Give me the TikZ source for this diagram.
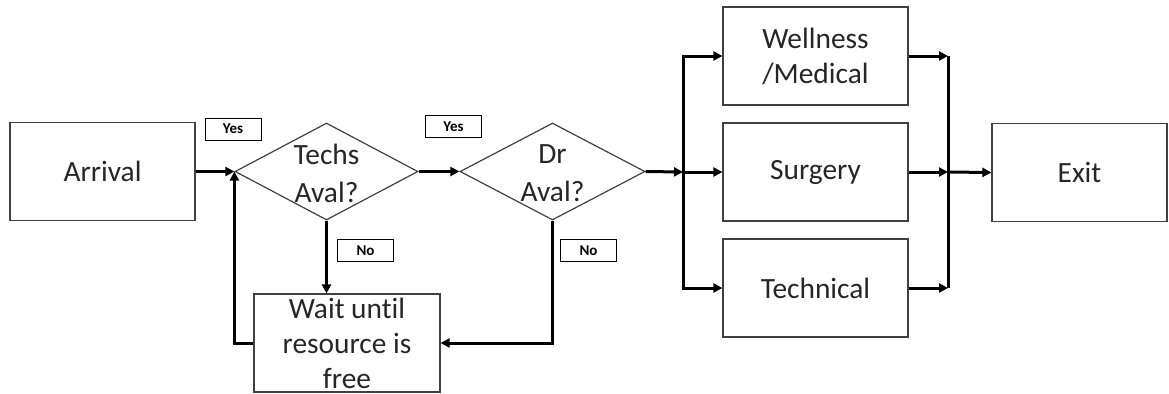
\documentclass[tikz,border=0pt]{standalone}
\usepackage{fontspec}
\setmainfont{Carlito}[Ligatures=NoCommon]
\usetikzlibrary{shapes.geometric,arrows.meta}
\definecolor{boxgray}{HTML}{404040}
\definecolor{textgray}{HTML}{262626}
\begin{document}
\begin{tikzpicture}[x=0.5pt,y=-0.5pt,
  procbox/.style={draw=boxgray,line width=0.6pt,inner sep=0pt,minimum width=#1,minimum height=49pt,align=center,text=textgray,font=\fontsize{14.7}{17.5}\selectfont},
  procbox/.default=92.5pt,
  decision/.style={diamond,draw=boxgray,line width=0.6pt,inner sep=0pt,minimum width=#1,minimum height=48.5pt},
  decision/.default=92pt,
  dtext/.style={align=center,text=textgray,inner sep=0pt,font=\fontsize{14.7}{19}\selectfont},
  lbl/.style={draw=black,line width=0.5pt,minimum width=28pt,minimum height=11pt,inner sep=0pt,font=\bfseries\fontsize{7.5}{8}\selectfont},
  conn/.style={line width=1.5pt,-{Triangle[length=4.5pt,width=4.5pt]}},
  thickline/.style={line width=1.5pt}]
\useasboundingbox (0,0) rectangle (1169,393);
% boxes
\node[procbox] (arr) at (102.5,171.5) {Arrival};
\node[decision=91.5pt] (techs) at (326.5,171.5) {};
\node[dtext] (techsT) at (326.5,173) {Techs\\Aval?};
\node[decision=92.5pt] (dr) at (552.5,171.5) {};
\node[dtext] (drT) at (552.5,173) {Dr\\Aval?};
\node[procbox=93pt] (wait) at (347,343) {Wait until\\resource is\\free};
\node[procbox] (well) at (815.5,56) {Wellness\\/Medical};
\node[procbox] (surg) at (815.5,172) {Surgery};
\node[procbox] (tech) at (815.5,288) {Technical};
\node[procbox=87.5pt] (exit) at (1079.5,172.5) {Exit};
% labels
\node[lbl] (yes1) at (233,129) {Yes};
\node[lbl] (yes2) at (453.5,126.5) {Yes};
\node[lbl] (no1) at (365.5,250.5) {No};
\node[lbl] (no2) at (588.5,250.5) {No};
% junctions
\coordinate (jin) at (683,172);
\coordinate (jout) at (948,172);
% connectors
\draw[conn] (arr.east) -- (techs.west);
\draw[conn] (techs.east) -- (dr.west);
\draw[conn] (techs.south) -- (techs.south |- wait.north);
\draw[conn] (dr.south) |- (wait.east);
\draw[conn] (wait.west) -| (techs.west);
\draw[conn] (dr.east) -- (jin);
\draw[conn] (jin) -- (surg.west);
\draw[conn] (jin) |- (well.west);
\draw[conn] (jin) |- (tech.west);
\draw[thickline] (well.east -| jout) -- (tech.east -| jout);
\draw[conn] (well.east) -- (well.east -| jout);
\draw[conn] (surg.east) -- (jout);
\draw[conn] (tech.east) -- (tech.east -| jout);
\draw[conn] (jout) -- (exit.west);
\end{tikzpicture}
\end{document}
